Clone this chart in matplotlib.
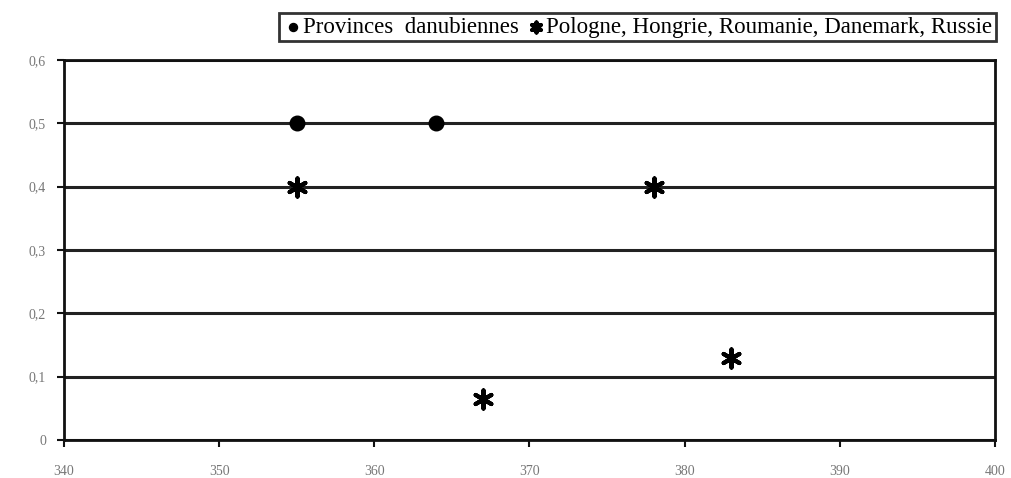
import matplotlib
matplotlib.use('Agg')
import matplotlib.pyplot as plt
from matplotlib.ticker import FuncFormatter

# data
danube_x = [355, 364]
danube_y = [0.5, 0.5]
others_x = [355, 378, 367, 383]
others_y = [0.4, 0.4, 0.065, 0.13]

LABEL_DANUBE = 'Provinces  danubiennes'
LABEL_OTHERS = 'Pologne, Hongrie, Roumanie, Danemark, Russie'

XTICKS = [340, 350, 360, 370, 380, 390, 400]
YTICKS = [0, 0.1, 0.2, 0.3, 0.4, 0.5, 0.6]

plt.rcParams['font.family'] = ['Liberation Serif', 'DejaVu Serif']


def comma(v, pos):
    """decimal comma like the french original"""
    if abs(v) < 1e-9:
        return '0'
    return ('%.1f' % v).replace('.', ',')


def main():
    fig = plt.figure(figsize=(10.11, 4.78), dpi=100)
    ax = fig.add_axes([0.0633, 0.0795, 0.9207, 0.795])

    ax.scatter(danube_x, danube_y, marker='o', s=110, color='black',
               zorder=3, label=LABEL_DANUBE)
    ax.scatter(others_x, others_y, marker=(6, 2, 0), s=170, color='black',
               linewidths=3.0, zorder=3, label=LABEL_OTHERS)

    ax.set_xlim(340, 400)
    ax.set_ylim(0, 0.6)
    ax.set_xticks(XTICKS)
    ax.set_yticks(YTICKS)
    ax.yaxis.set_major_formatter(FuncFormatter(comma))

    ax.grid(axis='y', color='#222222', linewidth=2.2, zorder=1)
    ax.set_axisbelow(True)
    for sp in ax.spines.values():
        sp.set_linewidth(2)
        sp.set_color('#111111')

    ax.tick_params(axis='both', direction='out', length=5, width=1.5,
                   colors='#111111', labelcolor='#777777', labelsize=10)
    ax.tick_params(axis='x', pad=13)
    ax.tick_params(axis='y', pad=8)

    leg = fig.legend(loc='upper right', bbox_to_anchor=(0.985, 0.972), ncol=2,
                     frameon=True, fancybox=False, fontsize=16.5,
                     handletextpad=0.0, columnspacing=0.3, borderpad=0.15,
                     handlelength=0.9, markerscale=0.55, borderaxespad=0)
    leg.get_frame().set_edgecolor('black')
    leg.get_frame().set_linewidth(2)

    fig.savefig('out.png', dpi=100, facecolor='white')


if __name__ == '__main__':
    main()
